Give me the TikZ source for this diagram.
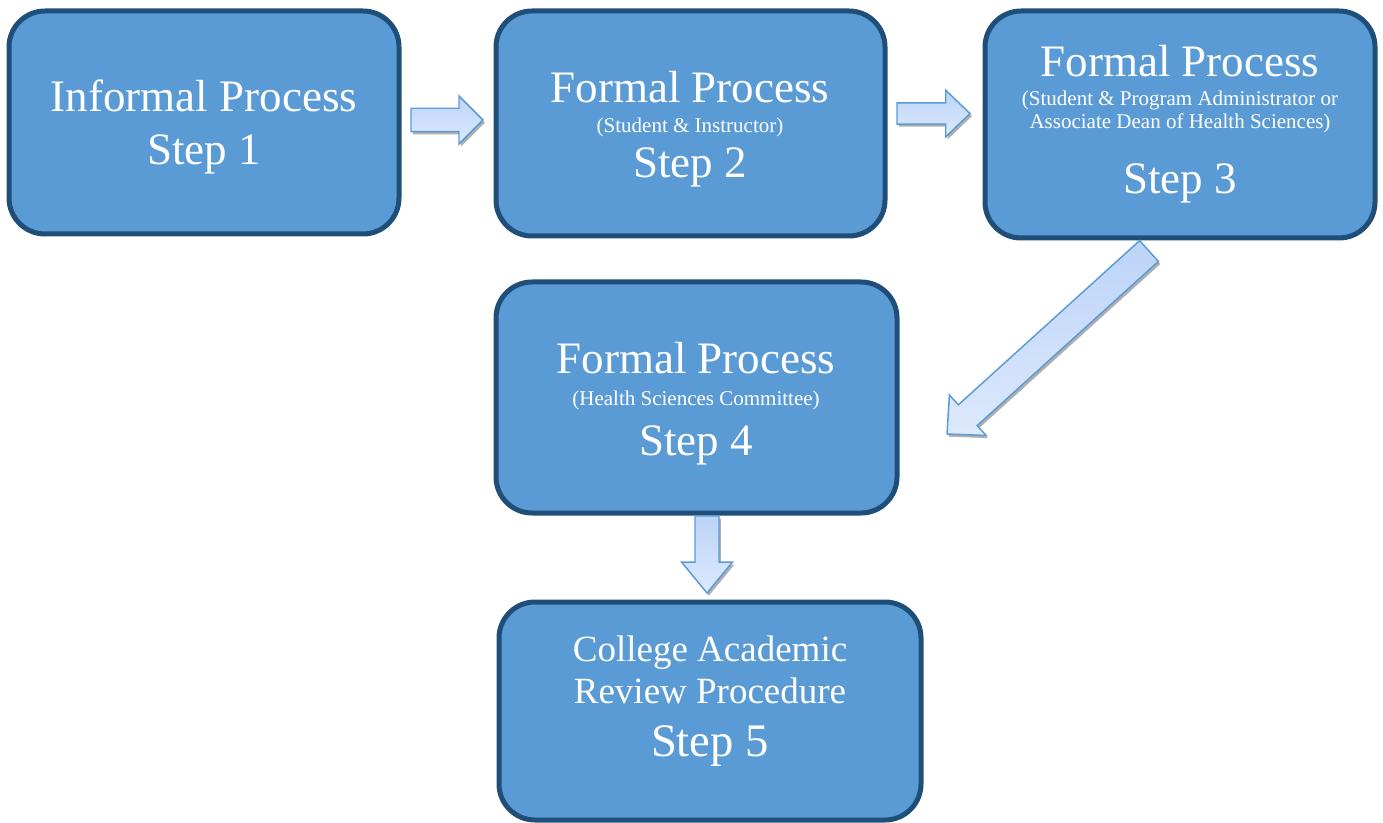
\documentclass[tikz,border=0pt]{standalone}
\usepackage{fontspec}
\setmainfont{Liberation Serif}
\usetikzlibrary{calc,shadows}

\definecolor{boxfill}{HTML}{5B9BD5}
\definecolor{boxedge}{HTML}{1F4E79}
\definecolor{arrowedge}{HTML}{5B9BD5}
\definecolor{arrowtop}{HTML}{BCD4F7}
\definecolor{arrowbot}{HTML}{DDE9FC}

% block arrow: tail, tip, shaft half width, head half width, head length
\newcommand{\blockarrow}[5]{%
  \coordinate (bahead) at ($(#2)!#5!(#1)$);
  \draw[blockarr] ($(#1)!#3!90:(#2)$) -- ($(bahead)!#3!90:(#2)$)
    -- ($(bahead)!#4!90:(#2)$) -- (#2) -- ($(bahead)!#4!-90:(#2)$)
    -- ($(bahead)!#3!-90:(#2)$) -- ($(#1)!#3!-90:(#2)$) -- cycle;
}

\begin{document}
\begin{tikzpicture}[x=0.75pt,y=-0.75pt
  ,stepbox/.style={draw=boxedge,fill=boxfill,line width=3.75pt,rounded corners=27pt,inner sep=0pt}
  ,bigtext/.style={anchor=base,text=white,inner sep=0pt,font=\fontsize{33.75}{40}\selectfont}
  ,smalltext/.style={anchor=base,text=white,inner sep=0pt,font=\fontsize{15.75}{18}\selectfont}
  ,midtext/.style={anchor=base,text=white,inner sep=0pt,font=\fontsize{27.75}{32}\selectfont}
  ,blockarr/.style={draw=arrowedge,line width=1.1pt,top color=arrowtop,bottom color=arrowbot
    ,drop shadow={shadow xshift=1.4pt,shadow yshift=-2pt,fill=black!35,opacity=0.9}}
]
\useasboundingbox (0,0) rectangle (1383,823);

% --- Boxes ---
\node[stepbox,minimum width=292.5pt,minimum height=167.25pt] (step1) at (204,122.5) {};
\node[bigtext] (s1a) at (204,111.7) {Informal Process};
\node[bigtext] (s1b) at (204,165) {Step 1};

\node[stepbox,minimum width=291.75pt,minimum height=168.75pt] (step2) at (690.5,123.5) {};
\node[bigtext] (s2a) at (690,102.5) {Formal Process};
\node[smalltext] (s2b) at (690,132.5) {(Student \& Instructor)};
\node[bigtext] (s2c) at (690,178) {Step 2};

\node[stepbox,minimum width=292.5pt,minimum height=170.25pt] (step3) at (1180,124.5) {};
\node[bigtext] (s3a) at (1180,77) {Formal Process};
\node[smalltext] (s3b) at (1180,106) {(Student \& Program Administrator or};
\node[smalltext] (s3c) at (1180,129) {Associate Dean of Health Sciences)};
\node[bigtext] (s3d) at (1180,194) {Step 3};

\node[stepbox,minimum width=300.75pt,minimum height=173.25pt] (step4) at (696.5,397.5) {};
\node[bigtext] (s4a) at (696,373.5) {Formal Process};
\node[smalltext] (s4b) at (696,405.5) {(Health Sciences Committee)};
\node[bigtext] (s4c) at (696,455) {Step 4};

\node[stepbox,minimum width=316.5pt,minimum height=163.5pt] (step5) at (710,711) {};
\node[midtext] (s5a) at (710,661) {College Academic};
\node[midtext] (s5b) at (710,703) {Review Procedure};
\node[bigtext,font=\fontsize{35}{40}\selectfont] (s5c) at (710,756) {Step 5};

% --- Block arrows ---
\coordinate (a1t) at (411,120);
\coordinate (a1h) at (483,120);
\blockarrow{a1t}{a1h}{8.8pt}{18pt}{18pt}

\coordinate (a2t) at (897,113.5);
\coordinate (a2h) at (970,113.5);
\blockarrow{a2t}{a2h}{7.9pt}{17.5pt}{18.2pt}

\coordinate (a3t) at (1149,251);
\coordinate (a3h) at (947,434);
\blockarrow{a3t}{a3h}{10.5pt}{20.5pt}{21pt}

\coordinate (a4t) at (707,516);
\coordinate (a4h) at (707,593);
\blockarrow{a4t}{a4h}{9pt}{19.1pt}{23.2pt}

\end{tikzpicture}
\end{document}
